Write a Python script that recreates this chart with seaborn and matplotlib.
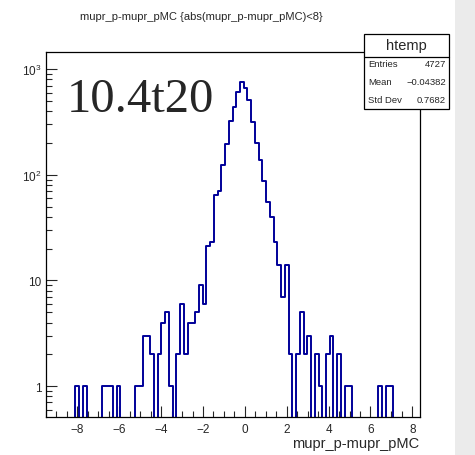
import numpy as np
import pandas as pd
import matplotlib
matplotlib.use('Agg')
import matplotlib.pyplot as plt
from matplotlib.patches import Rectangle
from matplotlib.lines import Line2D
from matplotlib.ticker import FixedLocator, FuncFormatter, MultipleLocator, LogLocator, NullFormatter
import seaborn as sns

# histogram (100 bins)
x_lo, x_hi, n_bins = -9.52, 8.34, 100
counts = [0, 0, 0, 0, 0, 0, 0, 0, 1, 0,
          1, 0, 0, 0, 0, 1, 1, 1, 0, 1,
          0, 0, 0, 0, 1, 1, 3, 3, 2, 0,
          2, 4, 5, 1, 0, 2, 6, 2, 4, 4,
          5, 9, 6, 21, 23, 64, 70, 125, 194, 322,
          436, 610, 752, 666, 508, 318, 201, 138, 87, 55,
          40, 23, 14, 7, 14, 2, 0, 2, 5, 2,
          3, 0, 2, 1, 0, 2, 3, 0, 2, 0,
          1, 1, 0, 0, 0, 0, 0, 0, 0, 1,
          0, 1, 1, 0, 0, 0, 0, 0, 0, 0]
hist_name = 'htemp'
stat_labels = ['Entries', 'Mean', 'Std Dev']
stat_values = ['4727', '\u22120.04382', '0.7682']
title = 'mupr_p-mupr_pMC {abs(mupr_p-mupr_pMC)<8}'
xlabel = 'mupr_p-mupr_pMC'
stamp = '10.4t20'
x_major = [-8, -6, -4, -2, 0, 2, 4, 6, 8]
y_major = [1, 10, 100, 1000]
y_names = {1: '1', 10: '10', 100: '$10^{2}$', 1000: '$10^{3}$'}

edges = np.linspace(x_lo, x_hi, n_bins + 1)
df = pd.DataFrame({'x': 0.5 * (edges[:-1] + edges[1:]), 'n': counts})

sns.set_style('ticks')
plt.rcParams['font.family'] = ['Liberation Sans', 'DejaVu Sans']
plt.rcParams['mathtext.fontset'] = 'custom'
plt.rcParams['mathtext.rm'] = 'Liberation Sans'
plt.rcParams['mathtext.it'] = 'Liberation Sans:italic'

W, H = 475, 456
fig = plt.figure(figsize=(W / 100, H / 100), dpi=100)
fig.patch.set_facecolor('white')

def fx(px):
    return px / W

def fy(py):
    return 1 - py / H

# grey strip on the right
fig.add_artist(Rectangle((fx(455), 0), fx(W - 455), 1, transform=fig.transFigure,
                         facecolor='#ebebeb', edgecolor='none', zorder=0))

ax = fig.add_axes([fx(45.5), fy(418), fx(419.5 - 45.5), (418 - 52.5) / H])
sns.histplot(data=df, x='x', weights='n', bins=edges.tolist(), element='step', fill=False,
             color='#000099', linewidth=1.4, ax=ax)
ax.set_yscale('log')
ax.set_xlim(x_lo, x_hi)
ax.set_ylim(0.51, 1470)
ax.set_xlabel('')
ax.set_ylabel('')

ax.xaxis.set_major_locator(FixedLocator(x_major))
ax.xaxis.set_minor_locator(MultipleLocator(0.5))
ax.yaxis.set_major_locator(FixedLocator(y_major))
ax.yaxis.set_minor_locator(LogLocator(base=10, subs=np.arange(2, 10)))
ax.yaxis.set_major_formatter(FuncFormatter(lambda v, p: y_names.get(int(round(v)), '')))
ax.yaxis.set_minor_formatter(NullFormatter())
ax.tick_params(which='major', direction='in', length=8, width=0.8, labelsize=8.5, top=False, right=False)
ax.tick_params(which='minor', direction='in', length=4, width=0.8, top=False, right=False)
ax.tick_params(axis='x', which='major', pad=4.5)
ax.tick_params(axis='y', which='major', pad=3)
for s in ax.spines.values():
    s.set_linewidth(0.9)
    s.set_color('black')

fig.text(fx(201), fy(17), title, ha='center', va='center', fontsize=8)
fig.text(fx(419.5), fy(448), xlabel, ha='right', va='baseline', fontsize=10.5)
fig.text(fx(67), fy(112), stamp, ha='left', va='baseline', fontsize=35,
         family=['Liberation Serif', 'DejaVu Serif'])

# stats box
bx0, bx1, by0, by1, bh = 364, 449, 35, 110, 58
fig.add_artist(Rectangle((fx(bx0), fy(by1)), fx(bx1 - bx0), (by1 - by0) / H,
                         transform=fig.transFigure, facecolor='white',
                         edgecolor='black', linewidth=0.9, zorder=5))
fig.add_artist(Line2D([fx(bx0), fx(bx1)], [fy(bh), fy(bh)], transform=fig.transFigure,
                      color='black', linewidth=0.9, zorder=6))
fig.text(fx((bx0 + bx1) / 2), fy(46), hist_name, ha='center', va='center', fontsize=10.5, zorder=7)
for i, (lab, val) in enumerate(zip(stat_labels, stat_values)):
    yy = fy(64.5 + i * 18)
    fig.text(fx(bx0 + 4), yy, lab, ha='left', va='center', fontsize=6.8, zorder=7)
    fig.text(fx(bx1 - 3), yy, val, ha='right', va='center', fontsize=6.8, zorder=7)

fig.savefig('out.png', dpi=100)
